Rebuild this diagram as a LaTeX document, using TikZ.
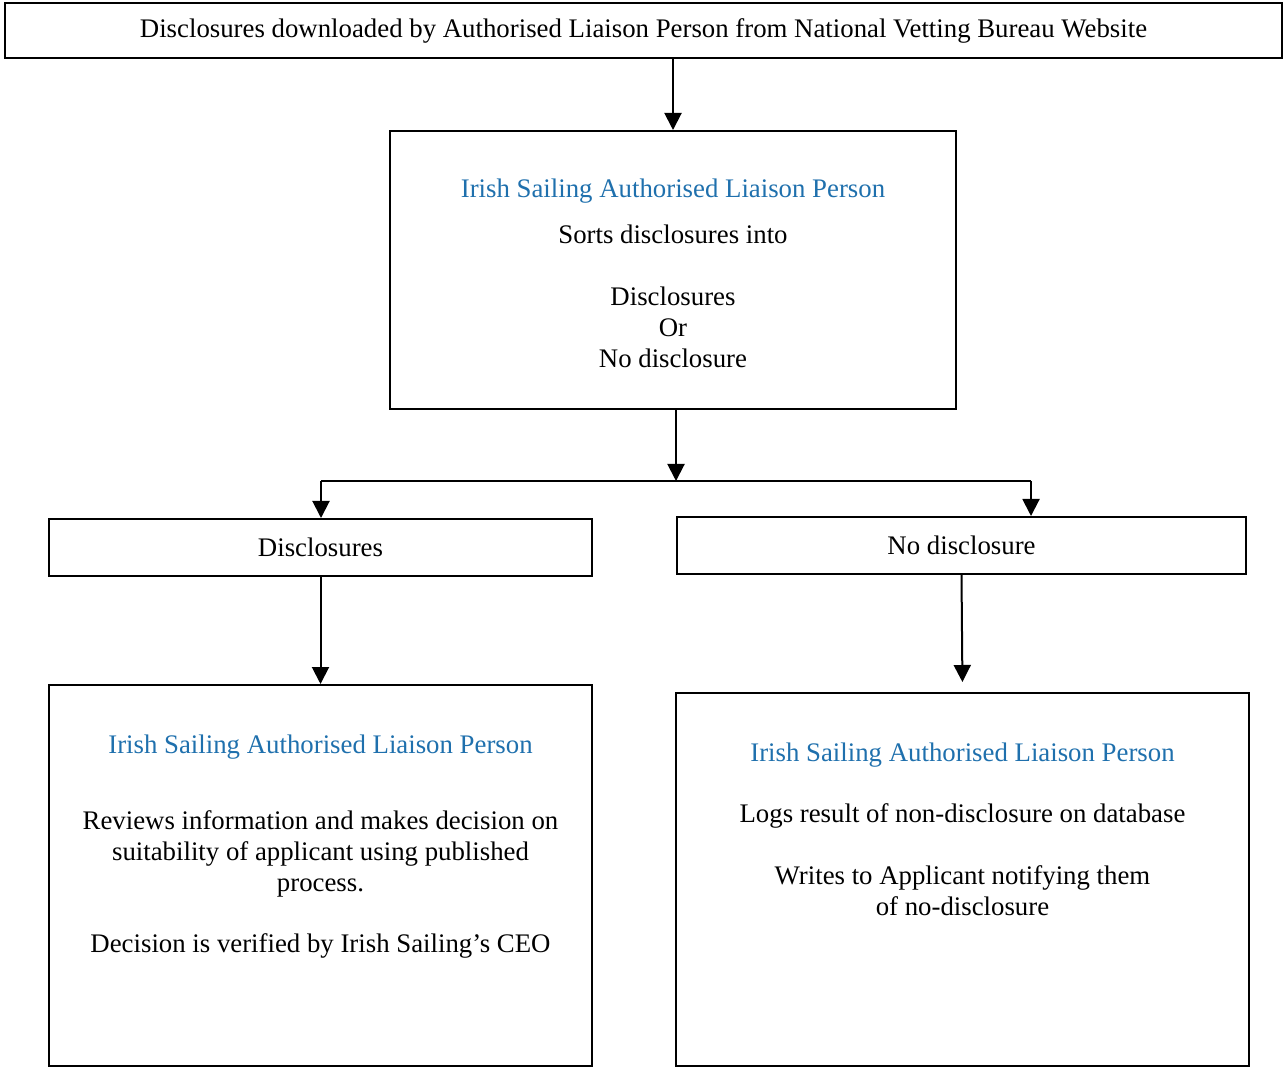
\documentclass[tikz,border=0pt]{standalone}
\usepackage{fontspec}
\setmainfont{Liberation Serif}
\usetikzlibrary{arrows.meta}
\definecolor{liaisonblue}{HTML}{1F70AD}
\begin{document}
\begin{tikzpicture}[x=0.5pt,y=-0.5pt,
    font=\fontsize{13.4}{15.5}\selectfont,
    box/.style={rectangle,draw=black,line width=1pt,inner sep=0pt},
    words/.style={align=center,inner sep=0pt,anchor=north},
    heading/.style={text=liaisonblue},
    arrow/.style={-{Triangle[length=8.5pt,width=8.5pt]},line width=1pt}]
    \useasboundingbox (0,0) rectangle (1283,1068);
    \node[box, minimum width=638.5pt, minimum height=27.5pt] (download) at (643.5,30.5) {Disclosures downloaded by Authorised Liaison Person from National Vetting Bureau Website};
    \node[box, minimum width=283pt, minimum height=139pt] (sortbox) at (673,270) {};
    \node[words] (sorttext) at (673,179) {\textcolor{liaisonblue}{Irish Sailing Authorised Liaison Person}\\[7.5pt]
        Sorts disclosures into\\[15.5pt] Disclosures\\ Or\\ No disclosure};
    \node[box, minimum width=271.5pt, minimum height=28.5pt] (disclosures) at (320.5,547.5) {Disclosures};
    \node[box, minimum width=284.5pt, minimum height=28.5pt] (nodisclosure) at (961.5,545.5) {No disclosure};
    \node[box, minimum width=271.5pt, minimum height=190.5pt] (reviewbox) at (320.5,875.5) {};
    \node[words] (reviewtext) at (320.5,734) {\textcolor{liaisonblue}{Irish Sailing Authorised Liaison Person}\\[22.5pt]
        Reviews information and makes decision on\\ suitability of applicant using published\\ process.\\[15pt]
        Decision is verified by Irish Sailing’s CEO};
    \node[box, minimum width=286.5pt, minimum height=186.5pt] (logbox) at (962.5,879.5) {};
    \node[words] (logtext) at (962.5,742) {\textcolor{liaisonblue}{Irish Sailing Authorised Liaison Person}\\[15pt]
        Logs result of non-disclosure on database\\[15.5pt]
        Writes to Applicant notifying them\\ of no-disclosure};
    \coordinate (split) at (676,481);
    \coordinate (splitleft) at (321,481);
    \coordinate (splitright) at (1031,481);
    \draw[arrow] (download.south -| sortbox.north) -- (sortbox.north);
    \draw[arrow] (sortbox.south -| split) -- (split);
    \draw[line width=1pt] (splitleft) -- (splitright);
    \draw[arrow] (splitleft) -- (splitleft |- disclosures.north);
    \draw[arrow] (splitright) -- (splitright |- nodisclosure.north);
    \draw[arrow] (disclosures.south) -- (reviewbox.north);
    \draw[arrow, shorten >=5pt] (nodisclosure.south) -- (logbox.north);
\end{tikzpicture}
\end{document}
